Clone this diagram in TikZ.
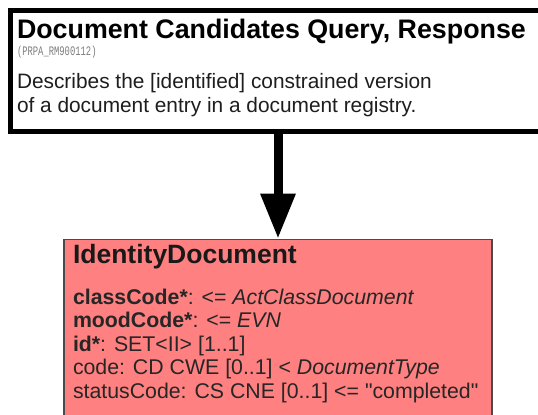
\documentclass[tikz,border=0pt]{standalone}
\usepackage{fontspec}
\setmainfont{Liberation Sans}[Ligatures=TeXOff]
\newfontfamily\monofont[FakeStretch=0.68]{Liberation Mono}
\usetikzlibrary{arrows.meta}
\definecolor{docred}{HTML}{FF8080}
\definecolor{docborder}{HTML}{4A4A4A}
\definecolor{desctext}{HTML}{1E1E1E}
\definecolor{idgray}{HTML}{7E7E7E}
\begin{document}
\begin{tikzpicture}[x=1bp,y=-1bp,
  txt/.style={anchor=base west,inner sep=0pt,outer sep=0pt},
  titletxt/.style={txt,font=\fontsize{26.8bp}{30bp}\selectfont\bfseries,text=black},
  idtxt/.style={txt,font=\monofont\fontsize{13bp}{15bp}\selectfont,text=idgray},
  desctxt/.style={txt,font=\fontsize{20.85bp}{24bp}\selectfont,text=desctext},
  attrtxt/.style={txt,font=\fontsize{21.3bp}{24bp}\selectfont,text=black!85},
  classtitle/.style={txt,font=\fontsize{26.5bp}{30bp}\selectfont\bfseries,text=black!90},
  modelbox/.style={draw=black,line width=5bp,fill=white,inner sep=0pt},
  classbox/.style={draw=docborder,line width=1.6bp,fill=docred,inner sep=0pt},
  assoc/.style={line width=9bp,-{Triangle[width=33bp,length=45bp]}}
]
\useasboundingbox (0,0) rectangle (538,414);
\clip (0,0) rectangle (538,414);
\node[modelbox,minimum width=537bp,minimum height=121bp] (query) at (279.5,70.5) {};
\node[classbox,minimum width=428bp,minimum height=200bp] (doc) at (278,339.5) {};
\draw[assoc] (doc.north |- query.south) -- (doc.north);
% top box texts
\node[titletxt] (qtitle) at (17,38) {Document Candidates Query, Response};
\node[idtxt] (qid) at (17,55) {(PRPA\_RM900112)};
\node[desctxt] (qd1) at (17,88) {Describes the [identified] constrained version};
\node[desctxt] (qd2) at (17,112) {of a document entry in a document registry.};
% class box texts
\node[classtitle] (dtitle) at (73,263.5) {IdentityDocument};
\node[attrtxt] (a1) at (73,304) {\textbf{classCode*}: <= \textit{ActClassDocument}};
\node[attrtxt] (a2) at (73,327.5) {\textbf{moodCode*}: <= \textit{EVN}};
\node[attrtxt] (a3) at (73,351) {\textbf{id*}: SET<II> [1..1]};
\node[attrtxt] (a4) at (73,374.5) {code: CD CWE [0..1] < \textit{DocumentType}};
\node[attrtxt] (a5) at (73,398) {statusCode: CS CNE [0..1] <= "completed"};
\end{tikzpicture}
\end{document}
